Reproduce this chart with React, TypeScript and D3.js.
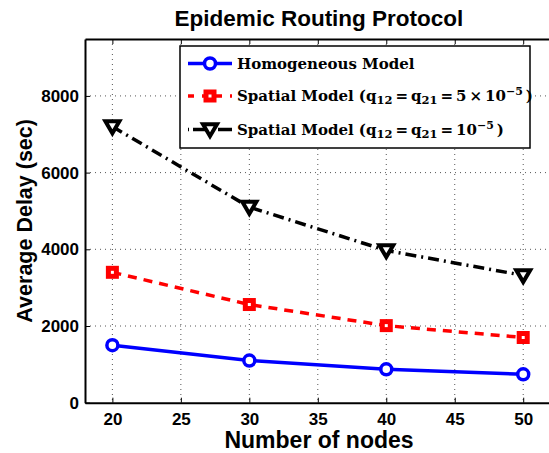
import { useEffect, useRef } from 'react';
import * as d3 from 'd3';

const nodes = [20, 30, 40, 50];
const homogeneous = [1500, 1100, 870, 740];
const spatial5 = [3400, 2560, 2010, 1700];
const spatial1 = [7200, 5100, 3970, 3320];
const xTicks = [20, 25, 30, 35, 40, 45, 50];
const yTicks = [0, 2000, 4000, 6000, 8000];

export default function App() {
  const svgRef = useRef<SVGSVGElement>(null);

  useEffect(() => {
    const margin = { top: 39, left: 85 };
    const plotBottom = 402.7;
    const plotRight = 550.6;

    const svg = d3.select(svgRef.current);
    svg.selectAll('*').remove();

    const x = d3.scaleLinear().domain([18, 52]).range([margin.left, plotRight]);
    const y = d3.scaleLinear().domain([0, 9484]).range([plotBottom, margin.top]);

    const sans = 'Liberation Sans, Arial, sans-serif';
    const serif = 'DejaVu Serif, Liberation Serif, serif';

    // grid
    const grid = svg.append('g').attr('stroke', '#555').attr('stroke-width', 1)
      .attr('stroke-dasharray', '1,4');
    xTicks.forEach(t => {
      grid.append('line').attr('x1', x(t)).attr('x2', x(t))
        .attr('y1', margin.top).attr('y2', plotBottom);
    });
    yTicks.slice(1).forEach(t => {
      grid.append('line').attr('x1', margin.left).attr('x2', plotRight)
        .attr('y1', y(t)).attr('y2', y(t));
    });

    // axes (MATLAB style box, ticks inward)
    const bottom = svg.append('g').attr('transform', `translate(0,${plotBottom})`)
      .call(d3.axisBottom(x).tickValues(xTicks).tickFormat(d3.format('d'))
        .tickSizeInner(-5).tickSizeOuter(0).tickPadding(10));
    bottom.select('.domain').attr('stroke-width', 2);
    const top = svg.append('g').attr('transform', `translate(0,${margin.top})`)
      .call(d3.axisTop(x).tickValues(xTicks).tickSizeInner(-5).tickSizeOuter(0).tickFormat(() => ''));
    top.select('.domain').attr('stroke-width', 2);
    const left = svg.append('g').attr('transform', `translate(${margin.left},0)`)
      .call(d3.axisLeft(y).tickValues(yTicks).tickFormat(d3.format('d'))
        .tickSizeInner(-5).tickSizeOuter(0).tickPadding(6));
    left.select('.domain').attr('stroke-width', 2);

    [bottom, left].forEach(g => {
      g.selectAll('text').attr('font-family', sans).attr('font-weight', 'bold')
        .attr('font-size', 17).attr('fill', '#000');
    });
    [bottom, top, left].forEach(g => g.selectAll('.tick line').attr('stroke', '#000'));

    // series
    const series = [
      { name: 'homo', values: homogeneous, color: '#0000ff', dash: null, marker: 'circle' },
      { name: 's5', values: spatial5, color: '#ff0000', dash: '9,7', marker: 'square' },
      { name: 's1', values: spatial1, color: '#000000', dash: '11,5,2,5', marker: 'triangle' },
    ];

    const line = d3.line<number>().x((_, i) => x(nodes[i])).y(d => y(d));

    const drawMarker = (g: any, kind: string, cx: number, cy: number, color: string) => {
      if (kind === 'circle') {
        g.append('circle').attr('cx', cx).attr('cy', cy).attr('r', 5.5)
          .attr('fill', 'white').attr('stroke', color).attr('stroke-width', 3.5);
      } else if (kind === 'square') {
        g.append('rect').attr('x', cx - 4).attr('y', cy - 4).attr('width', 8).attr('height', 8)
          .attr('fill', 'white').attr('stroke', color).attr('stroke-width', 5);
      } else {
        const s = 7;
        g.append('path')
          .attr('d', `M${cx - s},${cy - s * 0.75}L${cx + s},${cy - s * 0.75}L${cx},${cy + s * 0.95}Z`)
          .attr('fill', 'white').attr('stroke', color).attr('stroke-width', 4)
          .attr('stroke-linejoin', 'miter');
      }
    };

    series.forEach(s => {
      const p = svg.append('path').datum(s.values).attr('fill', 'none')
        .attr('stroke', s.color).attr('stroke-width', 3.5).attr('d', line);
      if (s.dash) p.attr('stroke-dasharray', s.dash);
      const mg = svg.append('g');
      s.values.forEach((v, i) => drawMarker(mg, s.marker, x(nodes[i]), y(v), s.color));
    });

    // legend
    const lg = svg.append('g');
    lg.append('rect').attr('x', 180).attr('y', 46).attr('width', 350).attr('height', 102)
      .attr('fill', 'white').attr('stroke', '#000').attr('stroke-width', 1.5);
    const rowsY = [63.5, 96, 129.5];
    series.forEach((s, i) => {
      const ly = rowsY[i];
      const l = lg.append('line').attr('x1', 188).attr('x2', 232).attr('y1', ly).attr('y2', ly)
        .attr('stroke', s.color).attr('stroke-width', 3.5);
      if (s.dash) l.attr('stroke-dasharray', i === 1 ? '6,8' : '1,4,16,4');
      drawMarker(lg, s.marker, 210, ly, s.color);
    });

    const addLabel = (i: number, pieces: [string, string?][]) => {
      const t = lg.append('text').attr('x', 237).attr('y', rowsY[i] + 5)
        .attr('font-family', serif).attr('font-weight', 'bold').attr('font-size', 15)
        .attr('fill', '#000').attr('xml:space', 'preserve');
      pieces.forEach(([txt, kind]) => {
        const ts = t.append('tspan').text(txt);
        if (kind === 'sub') ts.attr('font-size', 11.5).attr('dy', 3);
        if (kind === 'base') ts.attr('dy', -3);
        if (kind === 'sup') ts.attr('font-size', 11).attr('dy', -6);
        if (kind === 'supback') ts.attr('dy', 6);
      });
    };
    addLabel(0, [['Homogeneous Model']]);
    addLabel(1, [['Spatial Model ('], ['q', 'none'], ['12', 'sub'], ['\u2009=\u2009q', 'base'], ['21', 'sub'],
      ['\u2009=\u20095\u2009\u00d7\u200910', 'base'], ['\u22125', 'sup'], ['\u2009)', 'supback']]);
    addLabel(2, [['Spatial Model ('], ['q', 'none'], ['12', 'sub'], ['\u2009=\u2009q', 'base'], ['21', 'sub'],
      ['\u2009=\u200910', 'base'], ['\u22125', 'sup'], ['\u2009)', 'supback']]);

    // titles
    svg.append('text').attr('x', 319).attr('y', 26).attr('text-anchor', 'middle')
      .attr('font-family', sans).attr('font-weight', 'bold').attr('font-size', 22.5)
      .text('Epidemic Routing Protocol');
    svg.append('text').attr('x', 319).attr('y', 448).attr('text-anchor', 'middle')
      .attr('font-family', sans).attr('font-weight', 'bold').attr('font-size', 23)
      .text('Number of nodes');
    svg.append('text').attr('transform', `translate(32,${(margin.top + plotBottom) / 2}) rotate(-90)`)
      .attr('text-anchor', 'middle')
      .attr('font-family', sans).attr('font-weight', 'bold').attr('font-size', 21.5)
      .text('Average Delay (sec)');
  }, []);

  return (
    <svg ref={svgRef} width={549} height={453}
      style={{ position: 'absolute', left: 0, top: 0, background: 'white' }} />
  );
}
